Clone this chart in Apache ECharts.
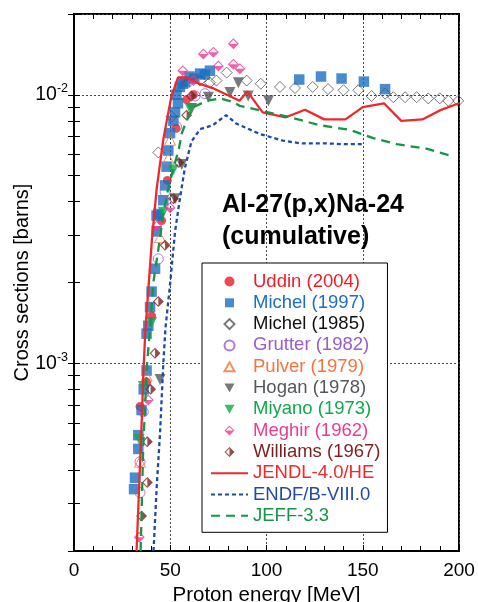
<!DOCTYPE html>
<html><head><meta charset="utf-8">
<script src="https://cdn.jsdelivr.net/npm/echarts@6/dist/echarts.min.js"></script>
<style>html,body{margin:0;padding:0;background:#fff}#c{width:478px;height:602px}</style>
</head><body><div id="c"></div>
<script>
const FONT = 'Arial, "Liberation Sans", sans-serif';

// ---- data (Proton energy [MeV], cross section [barns]) ----
const uddin = [[34.3,6.9e-4],[37.7,8.5e-4],[40.3,1.5e-3],[45.5,3.4e-3],[48.5,4.8e-3],[53,7.5e-3],[58.5,9.6e-3],[62,1.0e-2]];
const michel1997 = [[31.2,3.4e-4],[31.7,3.75e-4],[33.4,4.8e-4],[33.4,5.4e-4],[35.1,6.7e-4],[36.2,8.0e-4],[37.7,9.4e-4],[37.7,1.29e-3],[38.6,1.38e-3],[39.5,1.62e-3],[40.3,1.85e-3],[42.1,2.25e-3],[42.9,3.1e-3],[42.9,3.55e-3],[43.8,3.6e-3],[46.4,4.05e-3],[47.3,4.6e-3],[48.1,5.4e-3],[49,6.2e-3],[49.9,7.2e-3],[51.6,8.0e-3],[52.5,8.6e-3],[53.2,1.0e-2],[54,9.3e-3],[55,1.07e-2],[56.5,1.1e-2],[57.7,1.12e-2],[60,1.17e-2],[62.5,1.15e-2],[65.5,1.2e-2],[68,1.19e-2],[70.6,1.23e-2],[117,1.14e-2],[128.3,1.17e-2],[139,1.15e-2],[150.6,1.12e-2],[161.6,1.05e-2]];
const michel1985 = [[43.8,6.1e-3],[50.7,8.3e-3],[59.4,1.11e-2],[65.5,1.13e-2],[70.6,1.11e-2],[74,1.13e-2],[79.3,1.21e-2],[89.7,1.13e-2],[97,1.10e-2],[107,1.07e-2],[114.8,1.06e-2],[124,1.07e-2],[132,1.05e-2],[140,1.04e-2],[147.7,1.04e-2],[154.6,9.9e-3],[161.6,1.01e-2],[165.9,9.8e-3],[172,9.8e-3],[178,9.8e-3],[184,9.7e-3],[190,9.7e-3],[194.5,9.5e-3],[199.6,9.5e-3]];
const grutter = [[34.3,3.3e-4],[34.3,4.3e-4],[36,6.6e-4],[43.8,2.45e-3],[47.3,4.35e-3],[53.3,7.6e-3],[62.9,9.9e-3],[68,1.01e-2]];
const pulver = [[34.3,4.3e-4],[37.7,9.0e-4],[44.7,2.95e-3],[49,5.8e-3],[49.9,6.8e-3]];
const hogan = [[44.7,8.7e-4],[52.5,4.1e-3],[56,5.5e-3],[61.1,8.9e-3],[69.8,9.8e-3],[81,1.02e-2],[85.4,1.11e-2],[90.5,9.9e-3],[101,9.5e-3]];
const miyano = [[33.9,5.2e-4],[36,8.2e-4],[40.3,1.42e-3],[46.4,3.65e-3],[51.6,5.25e-3],[60.3,8.9e-3]];
const meghir = [[33.9,2.25e-4],[38.6,7.3e-4],[42.9,3.25e-3],[49.9,3.8e-3],[56.5,1.23e-2],[62,1.13e-2],[67.2,1.42e-2],[72.4,1.44e-2],[75,1.28e-2],[82.8,1.55e-2],[82.8,1.30e-2],[86.2,1.25e-2]];
const williams = [[35.1,2.7e-4],[38.1,3.6e-4],[38.1,5.1e-4],[39.8,8.0e-4],[42.1,1.09e-3],[43.8,1.7e-3],[47.3,2.75e-3],[51.6,4.1e-3],[54.5,5.6e-3],[58.5,8.4e-3],[61,9.9e-3]];
const jendl = [[32.5,2e-4],[35,5.6e-4],[36,9e-4],[37,1.3e-3],[40.5,2.9e-3],[43,4.5e-3],[46.5,6.9e-3],[50.5,9.8e-3],[54,1.16e-2],[59,1.16e-2],[65,1.1e-2],[72,1.06e-2],[86,9.5e-3],[90,1.03e-2],[98,8.6e-3],[110,8.25e-3],[120,8.8e-3],[130,8.1e-3],[141,8.1e-3],[150,9.0e-3],[161,9.3e-3],[170,8.0e-3],[181,8.1e-3],[190,8.75e-3],[200,9.3e-3]];
const endf = [[41.3,2e-4],[43,3.5e-4],[44.7,5.5e-4],[46.4,1e-3],[47.5,1.35e-3],[50,2e-3],[52.5,3.1e-3],[55,4.1e-3],[57.5,5.3e-3],[61,6.7e-3],[65.5,7.45e-3],[72,7.7e-3],[79,8.4e-3],[84.5,7.8e-3],[90,7.5e-3],[96.5,7.15e-3],[108.5,6.75e-3],[117.5,6.6e-3],[130,6.6e-3],[140,6.55e-3],[150,6.55e-3]];
const jeff = [[34.6,2e-4],[36,5e-4],[38,1e-3],[39.5,1.35e-3],[41.2,2e-3],[43.8,2.65e-3],[46.4,3.6e-3],[49,4.5e-3],[51.6,5.3e-3],[54.5,6.3e-3],[56,7.2e-3],[58.5,8e-3],[62,9e-3],[69,9.5e-3],[76,9.7e-3],[82.6,9.4e-3],[86,9.1e-3],[96.6,8.75e-3],[112,8.25e-3],[128,7.7e-3],[143.4,7.4e-3],[155.5,6.9e-3],[167.6,6.55e-3],[183,6.3e-3],[197,5.9e-3]];

const yLabelTicks = [1e-3, 1e-2];
const yMinorTicks = [2e-4,3e-4,4e-4,5e-4,6e-4,7e-4,8e-4,9e-4,1e-3,2e-3,3e-3,4e-3,5e-3,6e-3,7e-3,8e-3,9e-3,1e-2,2e-2];

const legendNames = ['Uddin (2004)','Michel (1997)','Michel (1985)','Grutter (1982)','Pulver (1979)','Hogan (1978)','Miyano (1973)','Meghir (1962)','Williams (1967)','JENDL-4.0/HE','ENDF/B-VIII.0','JEFF-3.3'];
const colors = ['#ee1c25','#1b6ec2','#111111','#9a5cc6','#f4743b','#54585c','#12a84a','#ec3a93','#7d1f1f','#f0282d','#1f4aa8','#15954a'];
const symbolColors = ['#ee1c25','#1b6ec2','#555555','#9a5cc6','#f4743b','#54585c','#12a84a','#ec3a93','#7d1f1f'];

const meghirSym = 'path://M5 0L10 5L5 10L0 5Z M5 1.4L1.4 5L5 8.6L8.6 5Z M0 5L10 5L5 10Z';
const williamsSym = 'path://M5 0L10 5L5 10L0 5Z M5 1.4L1.4 5L5 8.6L8.6 5Z M5 0L10 5L5 10Z';

// legend icons drawn in the 37x10 legend icon frame (shape centred)
const F = 'path://M0 0M37 10';
const legendIcons = [
  'circle',
  F + 'M14 0.5L23 0.5L23 9.5L14 9.5Z',
  F + 'M18.5 0L23.5 5L18.5 10L13.5 5Z',
  'circle',
  F + 'M18.5 0.5L23.5 9.5L13.5 9.5Z',
  F + 'M13.5 0.5L23.5 0.5L18.5 9.5Z',
  F + 'M13.5 0.5L23.5 0.5L18.5 9.5Z',
  F + 'M18.5 0L23.5 5L18.5 10L13.5 5Z M18.5 1.4L14.9 5L18.5 8.6L22.1 5Z M13.5 5L23.5 5L18.5 10Z',
  F + 'M18.5 0L23.5 5L18.5 10L13.5 5Z M18.5 1.4L14.9 5L18.5 8.6L22.1 5Z M18.5 0L23.5 5L18.5 10Z'
];

function sc(i, data, symbol, size, open, rot) {
  return {
    type: 'scatter', name: legendNames[i], data: data, symbol: symbol, symbolSize: size,
    symbolRotate: rot || 0, symbolKeepAspect: true,
    itemStyle: open ? {color: 'rgba(255,255,255,0)', borderColor: symbolColors[i], borderWidth: 1}
                    : {color: symbolColors[i], borderWidth: 0},
    emphasis: {disabled: true}, z: 3
  };
}
function ln(i, data, dash) {
  return {
    type: 'line', name: legendNames[i], data: data, symbol: 'none', showSymbol: false,
    lineStyle: {color: colors[i], width: 2.3, type: dash},
    itemStyle: {color: colors[i], opacity: 0}, emphasis: {disabled: true}, z: 4
  };
}

const legendData = legendNames.map((n, i) => {
  const d = {name: n, textStyle: {color: colors[i]}};
  if (i < 9) { d.icon = legendIcons[i]; d.symbolRotate = 0; }
  if (i >= 9) d.itemStyle = {opacity: 0};
  return d;
});

const chart = echarts.init(document.getElementById('c'), null, {renderer: 'canvas'});
const tickStyle = {color: '#000', width: 1};
const dotted = {color: '#444', width: 1, type: [2, 2]};
chart.setOption({
  animation: false,
  backgroundColor: '#fff',
  title: {
    text: 'Al-27(p,x)Na-24\n(cumulative)', left: 222, top: 189, padding: 0,
    textStyle: {fontFamily: FONT, fontSize: 25, fontWeight: 'bold', color: '#000', lineHeight: 32}
  },
  grid: {left: 74, right: 19, top: 14, bottom: 51, show: true, borderColor: '#000', borderWidth: 2,
         backgroundColor: 'transparent', containLabel: false, outerBoundsMode: 'none'},
  legend: {
    orient: 'vertical', left: 202, top: 263, padding: [9, 7, 7, 8],
    borderColor: '#000', borderWidth: 1, backgroundColor: '#fff',
    itemWidth: 37, itemHeight: 10, itemGap: 2.3,
    selectedMode: false,
    textStyle: {fontFamily: FONT, fontSize: 18.5, lineHeight: 19},
    data: legendData
  },
  xAxis: [{
    type: 'value', min: 0, max: 200, interval: 50, position: 'bottom',
    name: 'Proton energy [MeV]', nameLocation: 'middle', nameGap: 34, nameMoveOverlap: false,
    nameTextStyle: {fontFamily: FONT, fontSize: 20.5, color: '#000'},
    axisLine: {show: true, lineStyle: {color: '#000', width: 2}},
    axisTick: {show: true, inside: true, length: 6, lineStyle: tickStyle},
    minorTick: {show: true, splitNumber: 5, length: 5, lineStyle: tickStyle},
    axisLabel: {fontFamily: FONT, fontSize: 19, color: '#000', margin: 10},
    splitLine: {show: true, lineStyle: dotted}
  }, {
    type: 'value', min: 0, max: 200, interval: 50, position: 'top',
    axisLine: {show: false},
    axisTick: {show: true, inside: true, length: 6, lineStyle: tickStyle},
    minorTick: {show: true, splitNumber: 5, length: 5, lineStyle: tickStyle},
    axisLabel: {show: false}, splitLine: {show: false}
  }],
  yAxis: [{
    type: 'log', logBase: 10, min: 2e-4, max: 2e-2, position: 'left',
    name: 'Cross sections [barns]', nameLocation: 'middle', nameGap: 42, nameRotate: 90, nameMoveOverlap: false,
    nameTextStyle: {fontFamily: FONT, fontSize: 20, color: '#000'},
    axisLine: {show: true, lineStyle: {color: '#000', width: 2}},
    axisTick: {show: true, inside: true, length: 6, customValues: yMinorTicks, lineStyle: tickStyle},
    minorTick: {show: false},
    axisLabel: {
      customValues: yLabelTicks, margin: 6, fontFamily: FONT,
      formatter: v => '{b|10}{s|' + Math.round(Math.log10(v)) + '}',
      rich: {
        b: {fontFamily: FONT, fontSize: 19.5, color: '#000'},
        s: {fontFamily: FONT, fontSize: 12.5, color: '#000', padding: [0, 0, 12, 0]}
      }
    },
    splitLine: {show: false}
  }, {
    type: 'log', logBase: 10, min: 2e-4, max: 2e-2, position: 'right',
    axisLine: {show: false},
    axisTick: {show: true, inside: true, length: 6, customValues: yMinorTicks, lineStyle: tickStyle},
    minorTick: {show: false},
    axisLabel: {show: false}, splitLine: {show: false}
  }, {
    type: 'log', logBase: 10, min: 2e-4, max: 2e-2, position: 'left',
    axisLine: {show: false}, axisTick: {show: false}, minorTick: {show: false},
    axisLabel: {show: false},
    splitLine: {show: true, lineStyle: dotted}
  }],
  series: [
    sc(0, uddin, 'circle', 9, false),
    sc(1, michel1997, 'rect', 10.5, false),
    sc(2, michel1985, 'diamond', 11, true),
    sc(3, grutter, 'circle', 10, true),
    sc(4, pulver, 'triangle', 11, true),
    sc(5, hogan, 'triangle', 11, false, 180),
    sc(6, miyano, 'triangle', 11, false, 180),
    sc(7, meghir, meghirSym, 11, false),
    sc(8, williams, williamsSym, 11, false),
    ln(9, jendl, 'solid'),
    ln(10, endf, [4, 3]),
    ln(11, jeff, [9, 6])
  ]
});
</script></body></html>
